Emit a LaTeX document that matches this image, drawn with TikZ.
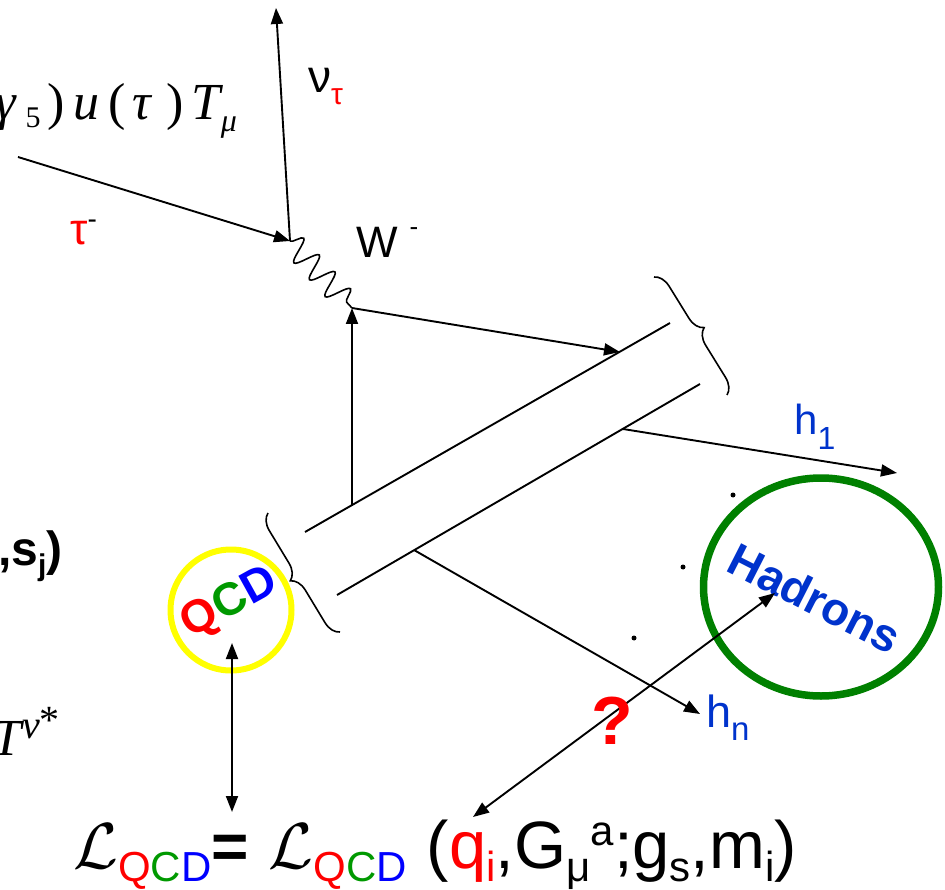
\documentclass[tikz,border=0pt]{standalone}
\usepackage{graphicx}
\usepackage{fontspec}
\setmainfont{Liberation Sans}
\newfontfamily\tms{Liberation Serif}
\usetikzlibrary{arrows.meta,decorations.pathmorphing,decorations.pathreplacing,shapes.geometric}
\definecolor{qred}{RGB}{255,0,0}
\definecolor{qgreen}{RGB}{0,153,0}
\definecolor{qblue}{RGB}{0,0,255}
\definecolor{hblue}{RGB}{0,51,204}
\definecolor{hgreen}{RGB}{0,128,0}
\definecolor{qyellow}{RGB}{255,255,0}
\newcommand\fs[1]{\fontsize{#1}{#1}\selectfont}
\newcommand\lo[1]{\raisebox{-13pt}{\fs{42}#1}}
\newcommand\hi[1]{\raisebox{23pt}{\fs{42}#1}}
\newcommand\qcdsub{\lo{\textcolor{qred}{Q}\textcolor{qgreen}{C}\textcolor{qblue}{D}}}
\newcommand\calL{\scalebox{6.5}{\normalsize$\mathcal{L}$}}
\begin{document}
\begin{tikzpicture}[x=1pt,y=-1pt,
  line/.style={line width=1.9pt},
  arr/.style={line, -{Triangle[length=16pt,width=12pt]}},
  darr/.style={line, {Triangle[length=16pt,width=12pt]}-{Triangle[length=16pt,width=12pt]}},
  tf/.style={font=\tms\itshape\fs{52}, inner sep=0, anchor=base},
  tr/.style={font=\tms\fs{52}, inner sep=0, anchor=base},
  lab/.style={inner sep=0, anchor=base west},
  dotp/.style={circle, fill=black, inner sep=0, minimum size=5pt},
  bracel/.style={line width=1.6pt, decorate, decoration={brace, amplitude=16pt}}]
\useasboundingbox (0,0) rectangle (945,890);

% vertices and tube points
\coordinate (taus) at (18,157);
\coordinate (v1) at (290,241);
\coordinate (nue) at (276,8);
\coordinate (v2) at (352,308);
\coordinate (u1) at (305,532);
\coordinate (u2) at (670,323);
\coordinate (l1) at (337,595);
\coordinate (l2) at (700,384);
\coordinate (q1) at (352,505);
\coordinate (qa) at (620,352);
\coordinate (h1s) at (623,429);
\coordinate (h1e) at (897,473);
\coordinate (hns) at (414,550);
\coordinate (hne) at (700,714);

% top formula (partly cut at the left)
\node[tf] (g1) at (6,120) {γ};
\node[tr, font=\tms\fs{30}] (g2) at (33,128) {5};
\node[tr] (g3) at (56,120) {)};
\node[tf] (g4) at (86,120) {u};
\node[tr] (g5) at (117,120) {(};
\node[tf] (g6) at (142,120) {τ};
\node[tr] (g7) at (175,120) {)};
\node[tf] (g8) at (206,120) {T};
\node[tf, font=\tms\itshape\fs{32}] (g9) at (229,132) {μ};

% left texts
\node[lab, font=\bfseries\fs{48}] (sj) at (-2,565) {,s\raisebox{-10pt}{\fs{30}j})};
\node[tf] (tnu) at (7,755) {T};
\node[lab, font=\tms\itshape\fs{40}] (nustar) at (22,738) {ν\raisebox{5pt}{\textup{*}}};

% lepton lines
\draw[arr] (taus) -- (v1);
\draw[arr] (v1) -- (nue);
\draw[line width=1.6pt, decorate, decoration={snake, amplitude=12pt, segment length=23pt}] (v1) -- (v2);
\node[lab, text=qred, font=\fs{44}] (taul) at (70,245) {τ\textcolor{black}{\raisebox{16pt}{\fs{28}-}}};
\node[lab, font=\fs{46}] (nul) at (308,93) {ν\raisebox{-12pt}{\fs{30}\textcolor{qred}{τ}}};
\node[lab, font=\fs{44}] (wl) at (356,258) {W\hspace{12pt}\raisebox{22pt}{\fs{26}-}};

% quark lines and tube
\draw[arr] (q1) -- (v2);
\draw[arr] (v2) -- (qa);
\draw[line] (u1) -- (u2);
\draw[line] (l1) -- (l2);
\draw[bracel] (340,632) -- (268,513);
\draw[bracel] (654,277) -- (727,395);

% hadrons
\draw[arr] (h1s) -- (h1e);
\draw[arr] (hns) -- (hne);
\node[lab, text=hblue, font=\fs{42}] (h1l) at (794,435) {h\raisebox{-14pt}{\fs{32}1}};
\node[lab, text=hblue, font=\fs{45}] (hnl) at (706,727) {h\raisebox{-13pt}{\fs{33}n}};
\node[dotp] (d1) at (733,495) {};
\node[dotp] (d2) at (683,567) {};
\node[dotp] (d3) at (634,638) {};

\node[ellipse, draw=hgreen, line width=7.5pt, minimum width=235pt, minimum height=218pt, inner sep=0] (had) at (821,587) {};
\node[font=\bfseries\fs{46}, text=hblue, rotate=-27] (hadt) at (815,598) {Hadrons};

\node[circle, draw=qyellow, line width=6pt, minimum size=121pt, inner sep=0] (qcdc) at (231,610) {};
\node[font=\bfseries\fs{46}, rotate=29] (qcdt) at (230,604) {\textcolor{qred}{Q}\textcolor{qgreen}{C}\textcolor{qblue}{D}};

% Lagrangian
\node[lab, font=\fs{64}] (lag) at (73,868) {\calL\qcdsub\textbf{=}\hspace{20pt}\calL\qcdsub\hspace{20pt}{\fs{67}(\textcolor{qred}{q\lo{i}},G\lo{μ}\hi{a};g\lo{s},m\lo{i})}};
\coordinate (eqtop) at (232,812);
\coordinate (qitop) at (473,817);
\coordinate (qcdin) at (232,643);
\coordinate (hadin) at (775,593);
\draw[darr] (qcdin) -- (eqtop);
\draw[darr] (qitop) -- (hadin);
\node[font=\bfseries\fs{68}, text=qred] (qm) at (612,721) {?};
\end{tikzpicture}
\end{document}
